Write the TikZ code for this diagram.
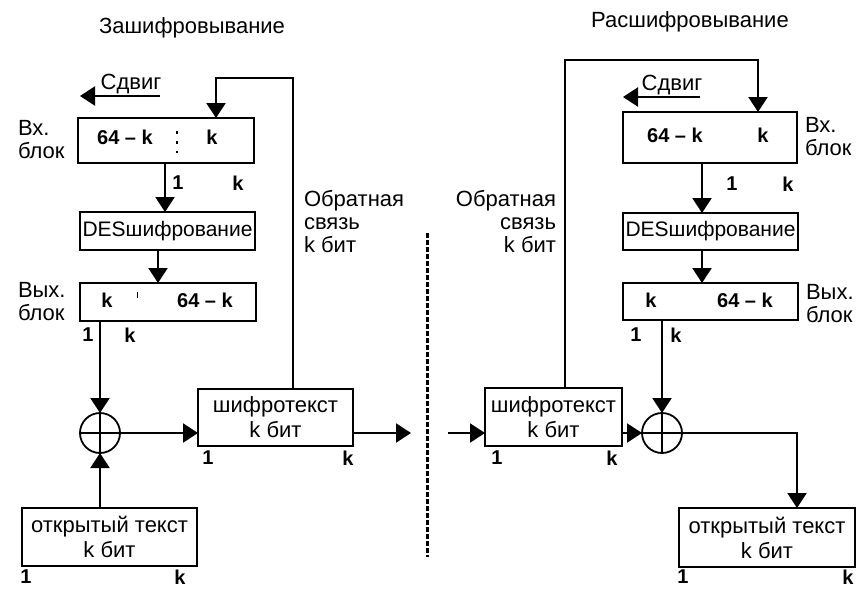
\documentclass[tikz,border=0pt]{standalone}
\usepackage{fontspec}
\setmainfont{Liberation Sans}
\usetikzlibrary{arrows.meta,calc}
\begin{document}
\begin{tikzpicture}[x=1pt,y=-1pt,
  every node/.style={inner sep=0pt, outer sep=0pt},
  lbl/.style={font=\fontsize{22}{23}\selectfont},
  bnum/.style={font=\fontsize{20}{22}\selectfont\bfseries},
  box/.style={draw, line width=2.3pt, align=center, font=\fontsize{22}{25}\selectfont},
  desbox/.style={box, font=\fontsize{21}{25}\selectfont},
  xorc/.style={draw, circle, line width=1.8pt, minimum size=40pt},
  arr/.style={line width=2.3pt, -{Triangle[length=15pt,width=19pt]}},
  ln/.style={line width=2.3pt},
]
\useasboundingbox (0,0) rectangle (856,589);

% ---------------- Left: encryption ----------------
\node[lbl] (titleL) at (192,28) {Зашифровывание};

\node[box, minimum width=176pt, minimum height=45pt] (inL) at (166,140.5) {};
\node[bnum] (inLa) at (125,137) {64 – k};
\node[bnum] (inLb) at (212,137) {k};
\draw[line width=1.4pt, dash pattern=on 3pt off 7pt] (177,131) -- (177,153);

\node[desbox, minimum width=175pt, minimum height=38pt] (desL) at (167.5,231) {DESшифрование};
\node[box, minimum width=176pt, minimum height=38pt] (outL) at (168,302) {};
\node[bnum] (outLa) at (107,300) {k};
\node[bnum] (outLb) at (205,300) {64 – k};
\draw[line width=1pt] (137,292) -- (137,298);

\node[xorc] (xorL) at (100,433) {};
\draw[line width=1.8pt] (xorL.north) -- (xorL.south) (xorL.west) -- (xorL.east);

\node[box, minimum width=175pt, minimum height=58pt] (ptL) at (109.5,537) {открытый текст\\k бит};
\node[box, minimum width=155pt, minimum height=57pt] (ctL) at (275.5,417.5) {шифротекст\\k бит};

\node[lbl, align=left, anchor=west] (vxL) at (18,140) {Вх.\\блок};
\node[lbl, align=left, anchor=west] (vyxL) at (18,302) {Вых.\\блок};
\node[lbl, align=left, anchor=west] (fbtxtL) at (304,222) {Обратная\\связь\\k бит};

\node[bnum] (n1a) at (178,183) {1};
\node[bnum] (nka) at (238,183) {k};
\node[bnum] (n1b) at (88,335) {1};
\node[bnum] (nkb) at (130,335) {k};
\node[bnum] (n1c) at (26,577) {1};
\node[bnum] (nkc) at (180,577) {k};
\node[bnum] (n1d) at (208,458) {1};
\node[bnum] (nkd) at (348,458) {k};

% shift arrow
\coordinate (shLs) at (160,96);
\coordinate (shLe) at (80,96);
\draw[arr] (shLs) -- (shLe);
\node[lbl, anchor=south] (shtL) at (131,94) {Сдвиг};

% feedback
\coordinate (fbL) at (293,78);
\coordinate (fbL2) at (216,78);
\draw[arr] (ctL.north -| fbL) -- (fbL) -- (fbL2) -- (fbL2 |- inL.north);

\coordinate (aL1) at (165,0);
\coordinate (aL2) at (158,0);
\draw[arr] (inL.south -| aL1) -- (desL.north -| aL1);
\draw[arr] (desL.south -| aL2) -- (outL.north -| aL2);
\draw[arr] (xorL.north |- outL.south) -- (xorL.north);
\draw[arr] (xorL.south |- ptL.north) -- (xorL.south);
\draw[arr] (xorL.east) -- (xorL.east -| ctL.west);
\coordinate (outEnd) at (411,433);
\draw[arr] (outEnd -| ctL.east) -- (outEnd);

% divider
\coordinate (divT) at (427,233);
\coordinate (divB) at (427,557);
\draw[line width=3pt, dash pattern=on 5pt off 2pt] (divT) -- (divB);

% ---------------- Right: decryption ----------------
\node[lbl] (titleR) at (690,22) {Расшифровывание};

\node[box, minimum width=174pt, minimum height=51pt] (inR) at (710,137.5) {};
\node[bnum] (inRa) at (675,135) {64 – k};
\node[bnum] (inRb) at (763,135) {k};

\node[desbox, minimum width=175pt, minimum height=37pt] (desR) at (710.5,231.5) {DESшифрование};
\node[box, minimum width=175pt, minimum height=37pt] (outR) at (710.5,301.5) {};
\node[bnum] (outRa) at (651,300) {k};
\node[bnum] (outRb) at (745,300) {64 – k};

\node[xorc] (xorR) at (662,433) {};
\draw[line width=1.8pt] (xorR.north) -- (xorR.south) (xorR.west) -- (xorR.east);

\node[box, minimum width=137pt, minimum height=58pt] (ctR) at (553.5,417) {шифротекст\\k бит};
\node[box, minimum width=176pt, minimum height=59pt] (ptR) at (767,537.5) {открытый текст\\k бит};

\node[lbl, align=left, anchor=west] (vxR) at (805,137) {Вх.\\блок};
\node[lbl, align=left, anchor=west] (vyxR) at (806,304) {Вых.\\блок};
\node[lbl, align=right, anchor=east] (fbtxtR) at (556,222) {Обратная\\связь\\k бит};

\node[bnum] (m1a) at (732,184) {1};
\node[bnum] (mka) at (788,184) {k};
\node[bnum] (m1b) at (636,335) {1};
\node[bnum] (mkb) at (676,335) {k};
\node[bnum] (m1c) at (497,458) {1};
\node[bnum] (mkc) at (612,458) {k};
\node[bnum] (m1d) at (683,577) {1};
\node[bnum] (mkd) at (848,577) {k};

% shift arrow
\coordinate (shRs) at (700,97);
\coordinate (shRe) at (623,97);
\draw[arr] (shRs) -- (shRe);
\node[lbl, anchor=south] (shtR) at (672,95) {Сдвиг};

% feedback
\coordinate (fbR) at (565,60);
\coordinate (fbR2) at (758,60);
\draw[arr] (ctR.north -| fbR) -- (fbR) -- (fbR2) -- (fbR2 |- inR.north);

\coordinate (aR) at (702,0);
\draw[arr] (inR.south -| aR) -- (desR.north -| aR);
\draw[arr] (desR.south -| aR) -- (outR.north -| aR);
\draw[arr] (xorR.north |- outR.south) -- (xorR.north);
\coordinate (inStart) at (448,433);
\draw[arr] (inStart) -- (inStart -| ctR.west);
\draw[arr] (xorR.west -| ctR.east) -- (xorR.west);
\coordinate (cR) at (797,433);
\draw[arr] (xorR.east) -- (cR) -- (cR |- ptR.north);
\end{tikzpicture}
\end{document}
